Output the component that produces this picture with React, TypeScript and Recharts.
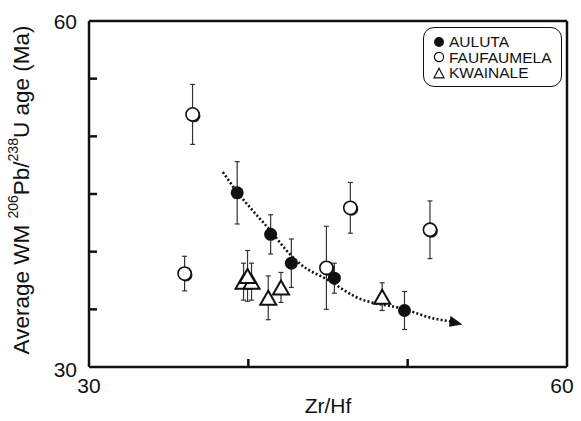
import React from "react";
import {
  ComposedChart,
  Scatter,
  Line,
  XAxis,
  YAxis,
  ErrorBar,
  ReferenceLine,
  Label,
} from "recharts";

// Values (Zr/Hf vs. weighted-mean 206Pb/238U age).
const AULUTA_X = [39.3, 41.4, 42.7, 45.4, 49.8];
const AULUTA_Y = [45.1, 41.5, 39.0, 37.7, 34.9];
const AULUTA_ERR = [2.7, 1.7, 2.1, 1.3, 1.65];

const FAUFAUMELA_X = [36.5, 36.0, 44.9, 46.4, 51.4];
const FAUFAUMELA_Y = [51.9, 38.1, 38.6, 43.8, 41.9];
const FAUFAUMELA_ERR = [2.6, 1.5, 3.6, 2.2, 2.5];

const KWAINALE_X = [39.7, 40.2, 39.95, 41.25, 42.05, 48.4];
const KWAINALE_Y = [37.4, 37.4, 37.9, 36.0, 36.9, 36.1];
const KWAINALE_ERR = [1.6, 1.6, 2.2, 1.9, 1.3, 1.2];

// dotted trend curve, traced by eye
const TREND_X = [38.4, 39.2, 40.25, 41.4, 42.4, 43.2, 45.06, 46.75, 49.84, 51.5, 52.7];
const TREND_Y = [46.9, 45.35, 43.6, 41.8, 40.1, 39.0, 37.5, 36.07, 35.0, 34.25, 33.95];

const X_TICKS = [30, 40, 50, 60];
const Y_TICKS = [30, 35, 40, 45, 50, 55, 60];
const LEGEND_LABELS = ["AULUTA", "FAUFAUMELA", "KWAINALE"];

const FONT = "'Liberation Sans', Arial, Helvetica, sans-serif";
const INK = "#111";

const toRows = (xs: number[], ys: number[], errs: number[]) =>
  xs.map((x, i) => ({ x, y: ys[i], err: errs[i] }));

const auluta = toRows(AULUTA_X, AULUTA_Y, AULUTA_ERR);
const faufaumela = toRows(FAUFAUMELA_X, FAUFAUMELA_Y, FAUFAUMELA_ERR);
const kwainale = toRows(KWAINALE_X, KWAINALE_Y, KWAINALE_ERR);
const trend = TREND_X.map((x, i) => ({ x, y: TREND_Y[i] }));

function FilledDot({ cx, cy }: any) {
  if (cx == null || cy == null) return null;
  return <circle cx={cx} cy={cy} r={6.5} fill={INK} />;
}

// open circle with the little offset shadow seen in the scan
function OpenDot({ cx, cy }: any) {
  if (cx == null || cy == null) return null;
  return (
    <g>
      <circle cx={cx + 1.3} cy={cy + 1.3} r={6.6} fill="#222" />
      <circle cx={cx} cy={cy} r={6.6} fill="#fff" stroke={INK} strokeWidth={1.6} />
    </g>
  );
}

function Tri({ cx, cy }: any) {
  if (cx == null || cy == null) return null;
  const h = 14;
  const w = 16;
  return (
    <polygon
      points={`${cx},${cy - h / 2} ${cx + w / 2},${cy + h / 2} ${cx - w / 2},${cy + h / 2}`}
      fill="#fff"
      stroke={INK}
      strokeWidth={2}
      strokeLinejoin="miter"
    />
  );
}

// only the last point of the trend gets an arrow head
function ArrowDot(props: any) {
  const { cx, cy, index } = props;
  if (index !== TREND_X.length - 1 || cx == null) return <g key={index} />;
  return (
    <polygon
      key={index}
      points={`${cx - 1},${cy - 5.5} ${cx + 12},${cy + 1.5} ${cx - 1},${cy + 5.5}`}
      fill={INK}
      transform={`rotate(8 ${cx} ${cy})`}
    />
  );
}

function XTick({ x, y, payload }: any) {
  const v = payload.value;
  if (v === 30 || v === 60) {
    return (
      <text
        x={v === 60 ? x - 5 : x}
        y={y + 18}
        textAnchor="middle"
        dominantBaseline="central"
        fontSize={21}
        fontFamily={FONT}
        fill={INK}
      >
        {v}
      </text>
    );
  }
  return <line x1={x} y1={y} x2={x} y2={y - 8} stroke={INK} strokeWidth={2.5} />;
}

function YTick({ x, y, payload }: any) {
  const v = payload.value;
  if (v === 30 || v === 60) {
    return (
      <text
        x={x - 12}
        y={v === 30 ? y + 2 : y}
        textAnchor="end"
        dominantBaseline="central"
        fontSize={21}
        fontFamily={FONT}
        fill={INK}
      >
        {v}
      </text>
    );
  }
  return <line x1={x} y1={y} x2={x + 8} y2={y} stroke={INK} strokeWidth={2.5} />;
}

function YTitle({ viewBox }: any) {
  const cy = viewBox ? viewBox.y + viewBox.height / 2 - 4 : 190;
  const cx = 21;
  return (
    <text
      x={cx}
      y={cy}
      transform={`rotate(-90 ${cx} ${cy})`}
      textAnchor="middle"
      dominantBaseline="central"
      fontSize={22.5}
      fontFamily={FONT}
      fill={INK}
    >
      Average WM{" "}
      <tspan fontSize={14} dy={-8}>206</tspan>
      <tspan dy={8}>Pb/</tspan>
      <tspan fontSize={14} dy={-8}>238</tspan>
      <tspan dy={8}>U age (Ma)</tspan>
    </text>
  );
}

function XTitle({ viewBox }: any) {
  const cx = viewBox ? viewBox.x + viewBox.width / 2 : 328;
  return (
    <text
      x={cx}
      y={405}
      textAnchor="middle"
      dominantBaseline="central"
      fontSize={21}
      fontFamily={FONT}
      fill={INK}
    >
      Zr/Hf
    </text>
  );
}

function LegendMark({ i }: { i: number }) {
  return (
    <svg width={12} height={12} style={{ marginRight: 4, flex: "none" }}>
      {i === 0 && <circle cx={6} cy={6} r={5} fill={INK} />}
      {i === 1 && <circle cx={6} cy={6} r={4.6} fill="#fff" stroke={INK} strokeWidth={1.2} />}
      {i === 2 && <polygon points="6,1.2 11,10.8 1,10.8" fill="#fff" stroke={INK} strokeWidth={1.2} />}
    </svg>
  );
}

export default function App() {
  return (
    <div style={{ position: "absolute", left: 0, top: 0, width: 581, height: 421, background: "#fff" }}>
      <ComposedChart
        width={581}
        height={421}
        margin={{ top: 21, right: 14, bottom: 0, left: 0 }}
      >
        <XAxis
          type="number"
          dataKey="x"
          domain={[30, 60]}
          ticks={X_TICKS}
          interval={0}
          height={54}
          tickSize={0}
          tickMargin={0}
          tickLine={false}
          axisLine={{ stroke: INK, strokeWidth: 2.5 }}
          tick={<XTick />}
          allowDataOverflow
        >
          <Label content={<XTitle />} />
        </XAxis>
        <YAxis
          type="number"
          dataKey="y"
          domain={[30, 60]}
          ticks={Y_TICKS}
          interval={0}
          width={89}
          tickSize={0}
          tickMargin={0}
          tickLine={false}
          axisLine={{ stroke: INK, strokeWidth: 2.5 }}
          tick={<YTick />}
          allowDataOverflow
        >
          <Label content={<YTitle />} />
        </YAxis>
        <ReferenceLine y={60} stroke={INK} strokeWidth={2.5} />
        <ReferenceLine x={60} stroke={INK} strokeWidth={2.5} />

        <Line
          data={trend}
          dataKey="y"
          type="monotone"
          stroke={INK}
          strokeWidth={2.6}
          strokeDasharray="2 2.2"
          dot={<ArrowDot />}
          activeDot={false}
          isAnimationActive={false}
        />

        <Scatter data={kwainale} dataKey="y" shape={<Tri />} isAnimationActive={false}>
          <ErrorBar dataKey="err" direction="y" width={2.5} stroke="#333" strokeWidth={1.2} />
        </Scatter>
        <Scatter data={faufaumela} dataKey="y" shape={<OpenDot />} isAnimationActive={false}>
          <ErrorBar dataKey="err" direction="y" width={2.5} stroke="#333" strokeWidth={1.2} />
        </Scatter>
        <Scatter data={auluta} dataKey="y" shape={<FilledDot />} isAnimationActive={false}>
          <ErrorBar dataKey="err" direction="y" width={2.5} stroke="#333" strokeWidth={1.2} />
        </Scatter>
      </ComposedChart>

      <div
        style={{
          position: "absolute",
          left: 423,
          top: 27,
          width: 139,
          height: 60,
          boxSizing: "border-box",
          border: `1.5px solid ${INK}`,
          borderRadius: 11,
          padding: "6px 0 0 9px",
          fontFamily: FONT,
          fontSize: 15.5,
          lineHeight: "15.5px",
          color: INK,
        }}
      >
        {LEGEND_LABELS.map((name, i) => (
          <div key={name} style={{ display: "flex", alignItems: "center" }}>
            <LegendMark i={i} />
            {name}
          </div>
        ))}
      </div>
    </div>
  );
}
